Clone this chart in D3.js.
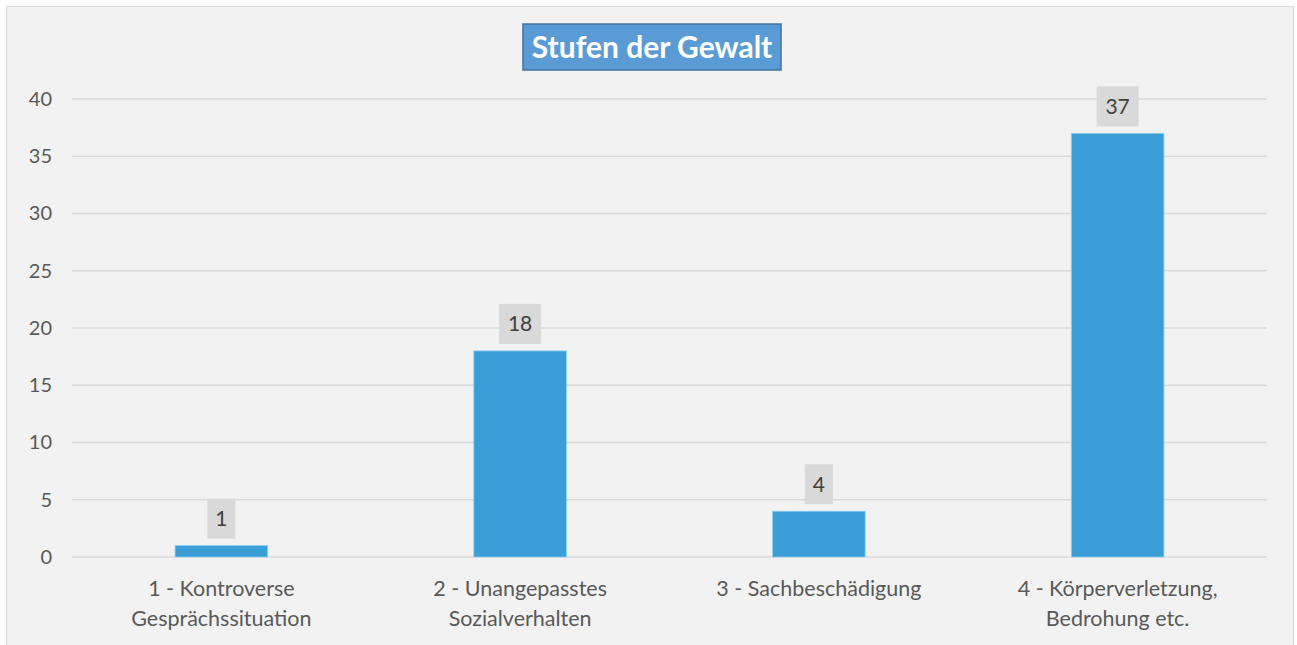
<!DOCTYPE html>
<html>
<head>
<meta charset="utf-8">
<script src="https://cdn.jsdelivr.net/npm/d3@7"></script>
<style>
  body { margin: 0; background: #fff; }
  text { font-family: Lato, "Open Sans", sans-serif; }
</style>
</head>
<body>
<svg id="chart" width="1297" height="645"></svg>
<script>
var title = "Stufen der Gewalt";
var categories = [
  ["1 - Kontroverse", "Gesprächssituation"],
  ["2 - Unangepasstes", "Sozialverhalten"],
  ["3 - Sachbeschädigung"],
  ["4 - Körperverletzung,", "Bedrohung etc."]
];
var values = [1, 18, 4, 37];
var yTicks = [0, 5, 10, 15, 20, 25, 30, 35, 40];

var svg = d3.select("#chart");

// chart frame
svg.append("rect")
  .attr("x", 6.5).attr("y", 6.5)
  .attr("width", 1287).attr("height", 650)
  .attr("fill", "#f2f2f2")
  .attr("stroke", "#d9d9d9");

var margin = {top: 99, left: 72, right: 30, bottom: 88},
  width = 1297 - margin.left - margin.right,
  height = 645 - margin.top - margin.bottom;

var g = svg.append("g").attr("transform", "translate(" + margin.left + "," + margin.top + ")");

var x = d3.scaleBand().domain(d3.range(categories.length)).range([0, width]).padding(0);
var y = d3.scaleLinear().domain([0, 40]).range([height, 0]);
var barW = x.bandwidth() * 0.31;

// gridlines
g.selectAll("line.grid")
  .data(yTicks)
  .enter().append("line")
    .attr("class", "grid")
    .attr("x1", 0).attr("x2", width)
    .attr("y1", function (d) { return y(d); })
    .attr("y2", function (d) { return y(d); })
    .attr("stroke", "#d9d9d9")
    .attr("stroke-width", 1.5);

// y axis labels
var yAxis = g.append("g")
  .call(d3.axisLeft(y).tickValues(yTicks).tickSize(0).tickPadding(20));
yAxis.select(".domain").remove();
yAxis.selectAll("text")
  .style("font-family", "Lato, sans-serif")
  .style("font-size", "20px")
  .attr("fill", "#595959");

// bars
g.selectAll("rect.bar")
  .data(values)
  .enter().append("rect")
    .attr("class", "bar")
    .attr("x", function (d, i) { return x(i) + x.bandwidth() / 2 - barW / 2; })
    .attr("y", function (d) { return y(d); })
    .attr("width", barW)
    .attr("height", function (d) { return height - y(d); })
    .attr("fill", "#3a9fd6")
    .attr("stroke", "#8fd0f2")
    .attr("stroke-width", 0.8);

// value labels
var lab = g.selectAll("g.lab")
  .data(values)
  .enter().append("g")
    .attr("class", "lab")
    .attr("transform", function (d, i) {
      return "translate(" + (x(i) + x.bandwidth() / 2) + "," + (y(d) - 27) + ")";
    });
lab.append("rect")
  .attr("x", function (d) { return String(d).length > 1 ? -21 : -14; })
  .attr("y", -20)
  .attr("width", function (d) { return String(d).length > 1 ? 42 : 28; })
  .attr("height", 40)
  .attr("fill", "#d9d9d9");
lab.append("text")
  .attr("text-anchor", "middle")
  .attr("dy", "0.36em")
  .style("font-size", "21px")
  .attr("fill", "#404040")
  .text(function (d) { return d; });

// category labels
var cat = g.selectAll("text.cat")
  .data(categories)
  .enter().append("text")
    .attr("class", "cat")
    .attr("text-anchor", "middle")
    .attr("transform", function (d, i) {
      return "translate(" + (x(i) + x.bandwidth() / 2) + "," + (height + 39) + ")";
    })
    .style("font-size", "21.5px")
    .attr("fill", "#595959");
cat.selectAll("tspan")
  .data(function (d) { return d; })
  .enter().append("tspan")
    .attr("x", 0)
    .attr("dy", function (d, i) { return i === 0 ? 0 : 30; })
    .text(function (d) { return d; });

// title
var tg = svg.append("g").attr("transform", "translate(652,47)");
tg.append("rect")
  .attr("x", -129).attr("y", -23)
  .attr("width", 258).attr("height", 46)
  .attr("fill", "#5b9bd5")
  .attr("stroke", "#41719c")
  .attr("stroke-width", 1.5);
tg.append("text")
  .attr("text-anchor", "middle")
  .attr("dy", "0.36em")
  .style("font-size", "30px")
  .style("font-weight", "bold")
  .attr("fill", "#ffffff")
  .text(title);
</script>
</body>
</html>
